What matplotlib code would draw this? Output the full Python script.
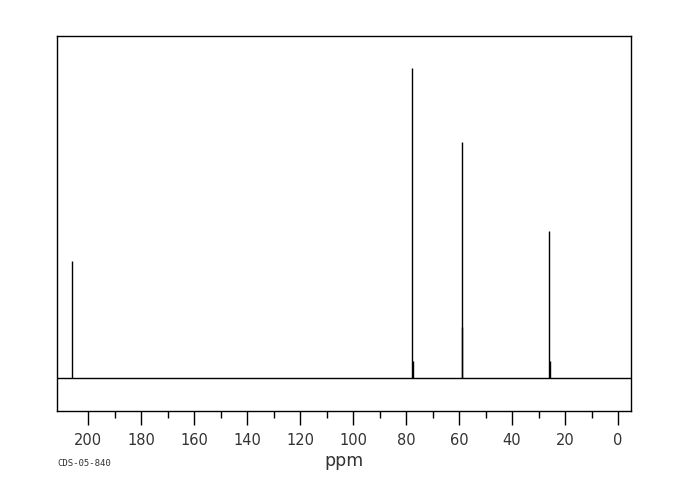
import matplotlib
matplotlib.use("Agg")
import matplotlib.pyplot as plt
from matplotlib.ticker import FixedLocator

# Peak positions (ppm) and intensities (arbitrary units, baseline = 0)
peak_ppm = [206.0, 77.6, 77.3, 59.0, 58.8, 25.9, 25.7]
peak_int = [117, 310, 17, 236, 51, 147, 17]

x_range = [211.7, -4.9]
y_range = [-33, 342]
major_ticks = [200, 180, 160, 140, 120, 100, 80, 60, 40, 20, 0]
minor_ticks = [190, 170, 150, 130, 110, 90, 70, 50, 30, 10]
xlabel = "ppm"
code_label = "CDS-05-840"

fig = plt.figure(figsize=(6.8, 5.0), dpi=100)
ax = fig.add_axes([57/680, 89/500, (631-57)/680, (411-36)/500])

ax.plot(x_range, [0, 0], color="black", lw=1.0)
ax.vlines(peak_ppm, 0, peak_int, color="black", lw=1.0)

ax.set_xlim(x_range)
ax.set_ylim(y_range)
ax.set_yticks([])
ax.xaxis.set_major_locator(FixedLocator(major_ticks))
ax.xaxis.set_minor_locator(FixedLocator(minor_ticks))
ax.set_xticklabels([str(t) for t in major_ticks])
ax.tick_params(axis="x", which="major", direction="out", length=10, width=1,
               labelsize=10.5, pad=6, colors="black")
ax.tick_params(axis="x", which="minor", direction="out", length=5, width=1)
for lbl in ax.get_xticklabels():
    lbl.set_color("#333333")
for s in ax.spines.values():
    s.set_linewidth(1.0)
    s.set_color("black")

fig.text(344/680, 1 - 461/500, xlabel, ha="center", va="center", fontsize=12.5, color="#333333")
fig.text(57/680, 1 - 463/500, code_label, ha="left", va="center", fontsize=6.5,
         family="DejaVu Sans Mono", color="#333333")

fig.savefig("out.png", dpi=100)
